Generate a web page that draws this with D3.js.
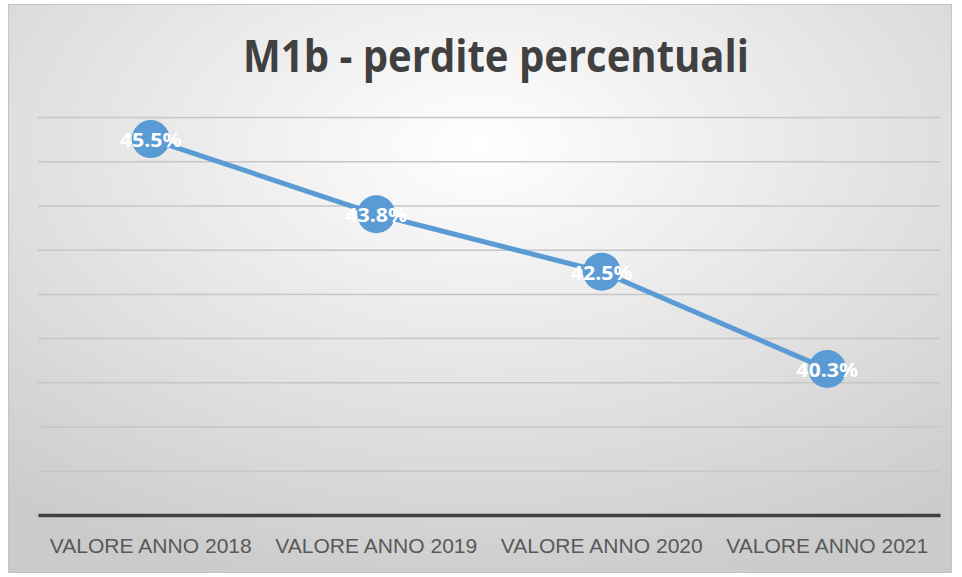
<!DOCTYPE html>
<html>
<head>
<meta charset="utf-8">
<script src="https://cdn.jsdelivr.net/npm/d3@7"></script>
<style>
  body { margin: 0; background: #fff; }
  svg { display: block; }
</style>
</head>
<body>
<svg id="chart" width="962" height="577"></svg>
<script>
// data
let categories = ['VALORE ANNO 2018', 'VALORE ANNO 2019', 'VALORE ANNO 2020', 'VALORE ANNO 2021'];
let values = [45.5, 43.8, 42.5, 40.3];
let gridTicks = [38, 39, 40, 41, 42, 43, 44, 45, 46];
let yDomain = [37, 46];
let title = 'M1b - perdite percentuali';

let svg = d3.select('#chart');
let W = 962, H = 577;
let margin = {left: 38, right: 22, top: 117, bottom: 62};

// background gradient like the office chart style
let defs = svg.append('defs');
let grad = defs.append('radialGradient').attr('id', 'bg')
    .attr('cx', '50%').attr('cy', '25%').attr('r', '80%');
grad.append('stop').attr('offset', '0%').attr('stop-color', '#ffffff');
grad.append('stop').attr('offset', '100%').attr('stop-color', '#cbcbcb');

svg.append('rect')
    .attr('x', 8.5).attr('y', 4.5)
    .attr('width', 943).attr('height', 568)
    .attr('fill', 'url(#bg)')
    .attr('stroke', '#c4c4c4')
    .attr('stroke-width', 1);

let x = d3.scaleBand().domain(categories)
    .range([margin.left, W - margin.right]);
let y = d3.scaleLinear().domain(yDomain)
    .range([H - margin.bottom, margin.top]);

// gridlines
let grid = svg.append('g')
    .attr('transform', `translate(${margin.left},0)`)
    .call(d3.axisLeft(y).tickValues(gridTicks)
        .tickSize(-(W - margin.left - margin.right)).tickFormat(''));
grid.select('.domain').remove();
grid.selectAll('line').attr('stroke', '#c6c6c6').attr('stroke-width', 1.5);

// x axis
let xAxis = svg.append('g')
    .attr('transform', `translate(0,${y(yDomain[0])})`)
    .call(d3.axisBottom(x).tickSize(0).tickPadding(23));
xAxis.select('.domain').attr('stroke', '#404040').attr('stroke-width', 3.5);
xAxis.selectAll('text')
    .attr('fill', '#595959')
    .style('font-family', 'Liberation Sans Narrow, Liberation Sans, sans-serif')
    .style('font-size', '21px')
    .attr('textLength', 202)
    .attr('lengthAdjust', 'spacingAndGlyphs');

// title
svg.append('text')
    .attr('x', 496).attr('y', 72)
    .attr('text-anchor', 'middle')
    .attr('fill', '#404040')
    .style('font-family', 'Open Sans, sans-serif')
    .style('font-weight', 'bold')
    .style('font-size', '44px')
    .attr('textLength', 506)
    .attr('lengthAdjust', 'spacingAndGlyphs')
    .text(title);

let cx = d => x(d.cat) + x.bandwidth() / 2;
let pts = categories.map((c, i) => ({cat: c, v: values[i]}));

// line
let line = d3.line().x(cx).y(d => y(d.v));
svg.append('path')
    .datum(pts)
    .attr('d', line)
    .attr('fill', 'none')
    .attr('stroke', '#5b9bd5')
    .attr('stroke-width', 5)
    .attr('stroke-linejoin', 'round');

// markers
svg.selectAll('circle.pt').data(pts).enter()
    .append('circle')
    .attr('class', 'pt')
    .attr('cx', cx)
    .attr('cy', d => y(d.v))
    .attr('r', 19)
    .attr('fill', '#5b9bd5');

// labels
svg.selectAll('text.lbl').data(pts).enter()
    .append('text')
    .attr('class', 'lbl')
    .attr('x', cx)
    .attr('y', d => y(d.v) + 8)
    .attr('text-anchor', 'middle')
    .attr('fill', '#ffffff')
    .style('font-family', 'Open Sans, sans-serif')
    .style('font-weight', 'bold')
    .style('font-size', '20px')
    .attr('textLength', 62)
    .attr('lengthAdjust', 'spacingAndGlyphs')
    .text(d => d.v.toFixed(1) + '%');
</script>
</body>
</html>
